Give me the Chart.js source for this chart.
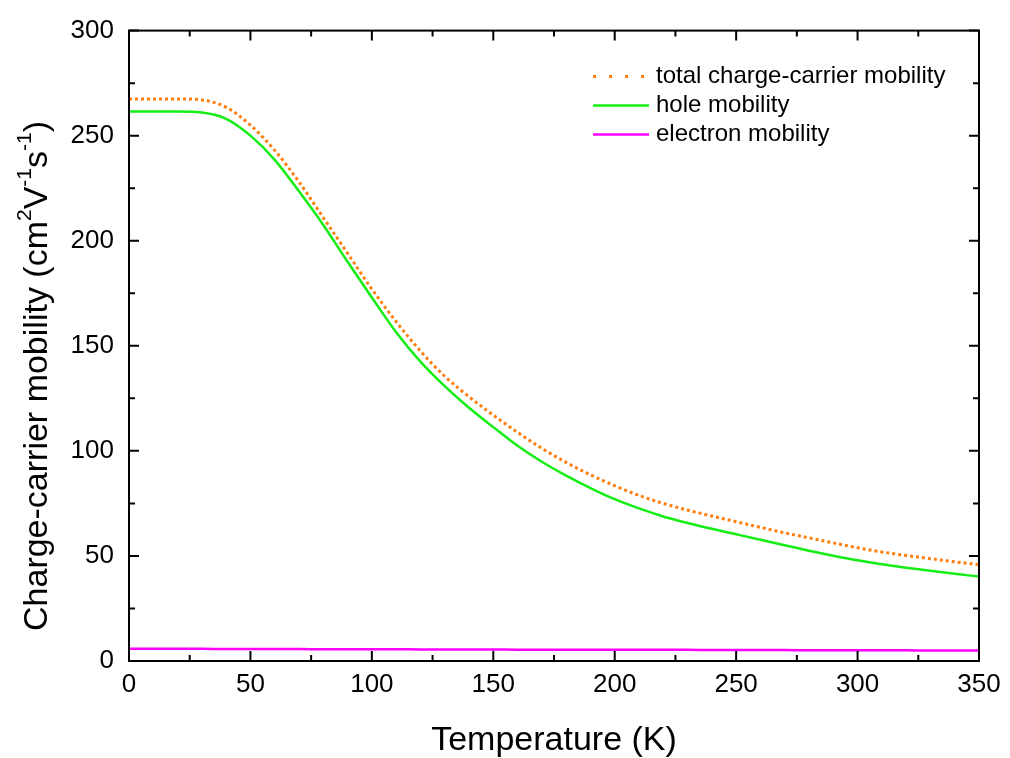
<!DOCTYPE html>
<html>
<head>
<meta charset="utf-8">
<script src="https://cdn.jsdelivr.net/npm/chart.js@4.4.1/dist/chart.umd.min.js"></script>
<style>
  html, body { margin: 0; padding: 0; background: #fff; }
  #wrap { width: 1010px; height: 758px; }
</style>
</head>
<body>
<div id="wrap"><canvas id="chart" width="1010" height="758"></canvas></div>
<script>
// temperatures (K)
const temps = [0, 10, 20, 30, 40, 50, 60, 70, 80, 90, 100, 110, 120, 130, 140, 150, 160, 170, 180, 190,
  200, 210, 220, 230, 240, 250, 260, 270, 280, 290, 300, 310, 320, 330, 340, 350];
const totalMobility = [267.5, 267.5, 267.5, 267, 263.5, 255, 243, 228, 211, 194, 177, 161.5, 147.5, 135.5, 125.8, 117, 108.8, 101.2, 94.5, 88.6,
  83.4, 78.8, 75, 71.8, 69, 66.3, 63.6, 61, 58.6, 56.2, 53.9, 51.9, 50.2, 48.7, 47.2, 45.9];
const holeMobility = [261.5, 261.5, 261.5, 261, 258, 250, 238.5, 223.5, 207.5, 190, 173, 156.5, 142.5, 130.8, 120.5, 111.3, 102.4, 94.8, 88.2, 82.3,
  77, 72.6, 68.8, 65.7, 62.9, 60.3, 57.7, 55.1, 52.5, 50.1, 47.9, 46, 44.4, 42.9, 41.5, 40.2];
const electronMobility = [5.8, 5.8, 5.8, 5.8, 5.7, 5.7, 5.7, 5.7, 5.6, 5.6, 5.6, 5.6, 5.5, 5.5, 5.5, 5.5, 5.4, 5.4, 5.4, 5.4,
  5.3, 5.3, 5.3, 5.3, 5.2, 5.2, 5.2, 5.2, 5.1, 5.1, 5.1, 5.1, 5.1, 5.0, 5.0, 5.0];

const seriesNames = ["total charge-carrier mobility", "hole mobility", "electron mobility"];
const seriesColors = ["#ff7f0e", "#14ee14", "#ff00ff"];

const FONT = "'Liberation Sans', Arial, sans-serif";

function toXY(ys) {
  return temps.map((t, i) => ({ x: t, y: ys[i] }));
}

// frame, inward ticks on all four sides, legend and y title with superscripts
const framePlugin = {
  id: "frame",
  afterDraw(chart) {
    const { ctx, chartArea: a, scales } = chart;
    const xs = scales.x, ys = scales.y;
    ctx.save();
    ctx.strokeStyle = "#000";
    ctx.lineWidth = 2;
    ctx.strokeRect(a.left, a.top, a.right - a.left, a.bottom - a.top);

    ctx.beginPath();
    for (let v = 0; v <= 350; v += 25) {
      const px = xs.getPixelForValue(v);
      const len = v % 50 === 0 ? 10 : 6;
      ctx.moveTo(px, a.bottom); ctx.lineTo(px, a.bottom - len);
      ctx.moveTo(px, a.top); ctx.lineTo(px, a.top + len);
    }
    for (let v = 0; v <= 300; v += 25) {
      const py = ys.getPixelForValue(v);
      const len = v % 50 === 0 ? 10 : 6;
      ctx.moveTo(a.left, py); ctx.lineTo(a.left + len, py);
      ctx.moveTo(a.right, py); ctx.lineTo(a.right - len, py);
    }
    ctx.stroke();

    // legend
    const lx = a.left + 464, ly = a.top + 46;
    seriesNames.forEach((name, i) => {
      const y = ly + i * 29;
      ctx.beginPath();
      ctx.strokeStyle = seriesColors[i];
      ctx.lineWidth = i === 0 ? 3 : 2.5;
      ctx.setLineDash(i === 0 ? [3, 13] : []);
      ctx.moveTo(lx, y); ctx.lineTo(lx + 56, y);
      ctx.stroke();
      ctx.setLineDash([]);
      ctx.fillStyle = "#000";
      ctx.font = "24px " + FONT;
      ctx.textBaseline = "middle";
      ctx.textAlign = "left";
      ctx.fillText(name, lx + 63, y);
    });

    // y axis title
    const parts = [
      ["Charge-carrier mobility (cm", 0], ["2", 1], ["V", 0], ["-1", 1], ["s", 0], ["-1", 1], [")", 0]
    ];
    const big = "34px " + FONT, small = "21px " + FONT;
    let total = 0;
    parts.forEach(p => { ctx.font = p[1] ? small : big; total += ctx.measureText(p[0]).width; });
    ctx.translate(38, 376);
    ctx.rotate(-Math.PI / 2);
    ctx.fillStyle = "#000";
    ctx.textAlign = "left";
    ctx.textBaseline = "middle";
    let cx = -total / 2;
    parts.forEach(p => {
      ctx.font = p[1] ? small : big;
      ctx.fillText(p[0], cx, p[1] ? -13 : 0);
      cx += ctx.measureText(p[0]).width;
    });
    ctx.restore();
  }
};

new Chart(document.getElementById("chart"), {
  type: "line",
  data: {
    datasets: [
      { label: seriesNames[0], data: toXY(totalMobility), borderColor: seriesColors[0], borderWidth: 3, borderDash: [3, 3], order: 0 },
      { label: seriesNames[1], data: toXY(holeMobility), borderColor: seriesColors[1], borderWidth: 2.5, order: 1 },
      { label: seriesNames[2], data: toXY(electronMobility), borderColor: seriesColors[2], borderWidth: 2.5, order: 2 }
    ]
  },
  options: {
    responsive: false,
    animation: false,
    events: [],
    layout: { padding: { top: 27, right: 31, left: 0, bottom: 0 } },
    elements: { point: { radius: 0 }, line: { cubicInterpolationMode: "monotone", fill: false } },
    plugins: { legend: { display: false }, tooltip: { enabled: false } },
    scales: {
      x: {
        type: "linear", min: 0, max: 350,
        grid: { display: false, drawTicks: false },
        border: { display: false },
        ticks: { stepSize: 50, padding: 8, color: "#000", font: { family: FONT, size: 26 } },
        title: { display: true, text: "Temperature (K)", color: "#000", font: { family: FONT, size: 34 }, padding: { top: 6, bottom: -3 } },
        afterFit(s) { s.height = 97; }
      },
      y: {
        min: 0, max: 300,
        grid: { display: false, drawTicks: false },
        border: { display: false },
        ticks: { stepSize: 50, padding: 15, color: "#000", font: { family: FONT, size: 26 } },
        afterFit(s) { s.width = 129; }
      }
    }
  },
  plugins: [framePlugin]
});
</script>
</body>
</html>
